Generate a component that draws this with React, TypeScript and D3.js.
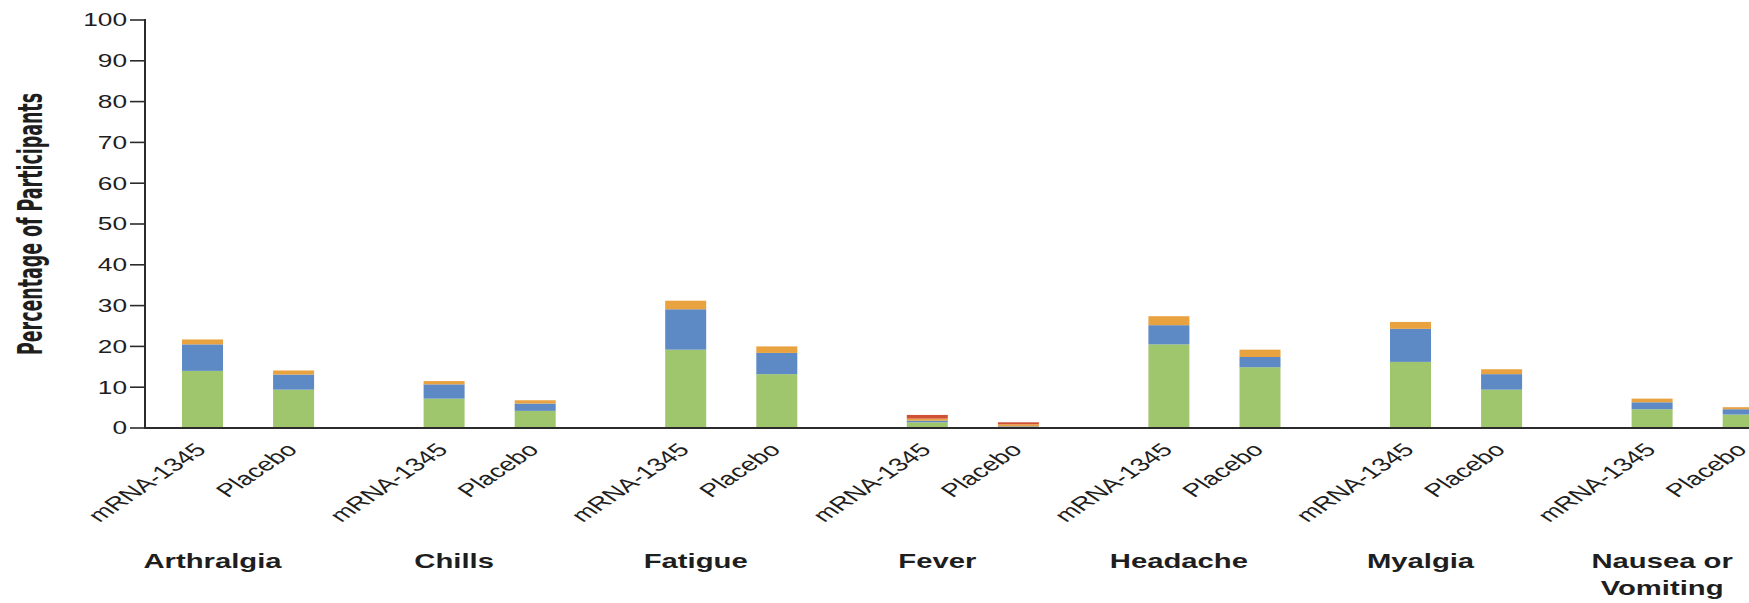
import React from "react";
import * as d3 from "d3";

// Solicited systemic adverse reactions by grade, % of participants
const symptoms = ["Arthralgia", "Chills", "Fatigue", "Fever", "Headache", "Myalgia", "Nausea or Vomiting"];
const arms = ["mRNA-1345", "Placebo"];
const gradeKeys = ["grade1", "grade2", "grade3", "grade4"];
const gradeColors = ["#9fc66d", "#5d89c4", "#e9a240", "#cf5033"];
const yTicks = [0, 10, 20, 30, 40, 50, 60, 70, 80, 90, 100];

const grade1Vaccine = [14.0, 7.2, 19.2, 1.4, 20.5, 16.2, 4.6];
const grade2Vaccine = [6.5, 3.5, 9.9, 0.4, 4.7, 8.1, 1.7];
const grade3Vaccine = [1.2, 0.8, 2.1, 0.5, 2.2, 1.7, 0.9];
const grade4Vaccine = [0, 0, 0, 0.9, 0, 0, 0];

const grade1Placebo = [9.4, 4.2, 13.2, 0.1, 14.9, 9.4, 3.3];
const grade2Placebo = [3.7, 1.8, 5.2, 0.3, 2.5, 3.8, 1.3];
const grade3Placebo = [1.0, 0.8, 1.6, 0.5, 1.8, 1.2, 0.5];
const grade4Placebo = [0, 0, 0, 0.5, 0, 0, 0];

type Row = { symptom: string; arm: string; grade1: number; grade2: number; grade3: number; grade4: number };

const rows: Row[] = symptoms.flatMap((s, i) => [
  { symptom: s, arm: arms[0], grade1: grade1Vaccine[i], grade2: grade2Vaccine[i], grade3: grade3Vaccine[i], grade4: grade4Vaccine[i] },
  { symptom: s, arm: arms[1], grade1: grade1Placebo[i], grade2: grade2Placebo[i], grade3: grade3Placebo[i], grade4: grade4Placebo[i] },
]);

const W = 1749;
const H = 603;
const axisX = 145;
const axisY = 428;
const topY = 20;
const stretch = 1.5; // horizontal text stretch
const groupStep = 241.6;
const groupStart = 182;
const textColor = "#1e1e1e";
const font = "'Liberation Sans', Arial, sans-serif";

export default function App() {
  const y = d3.scaleLinear().domain([0, 100]).range([axisY, topY]);
  const x0 = d3
    .scaleBand<string>()
    .domain(symptoms)
    .range([groupStart, groupStart + groupStep * symptoms.length])
    .padding(0);
  const x1 = d3.scaleBand<string>().domain(arms).range([0, 132.1]).paddingInner(0.55).paddingOuter(0);

  const series = d3.stack<Row>().keys(gradeKeys)(rows);

  const barX = (r: Row) => (x0(r.symptom) ?? 0) + (x1(r.arm) ?? 0);
  const bw = x1.bandwidth();

  return (
    <svg width={W} height={H} style={{ position: "absolute", left: 0, top: 0, background: "#fff" }}>
      {/* stacked bars */}
      {series.map((s, si) => (
        <g key={s.key} fill={gradeColors[si]}>
          {s.map((d, di) => {
            const h = y(d[0]) - y(d[1]);
            if (h <= 0) return null;
            return <rect key={di} x={barX(d.data)} y={y(d[1])} width={bw} height={h} />;
          })}
        </g>
      ))}

      {/* y axis */}
      <line x1={axisX} x2={axisX} y1={topY - 1} y2={axisY + 1} stroke="#2b2b2b" strokeWidth={2} />
      {yTicks.map((t) => (
        <g key={t}>
          <line x1={axisX - 15} x2={axisX} y1={y(t)} y2={y(t)} stroke="#2b2b2b" strokeWidth={1.6} />
          <text
            transform={`translate(${axisX - 18},${y(t) + 6.3}) scale(${stretch},1)`}
            textAnchor="end"
            fontFamily={font}
            fontSize={17.5}
            fill={textColor}
          >
            {t}
          </text>
        </g>
      ))}

      {/* x axis */}
      <line x1={axisX} x2={W} y1={axisY} y2={axisY} stroke="#2b2b2b" strokeWidth={2} />

      {/* arm labels */}
      {rows.map((r, i) => (
        <text
          key={i}
          transform={`translate(${barX(r) + bw / 2 + 5},${451}) scale(${stretch},1) rotate(-45)`}
          textAnchor="end"
          fontFamily={font}
          fontSize={18.5}
          fill={textColor}
        >
          {r.arm}
        </text>
      ))}

      {/* symptom labels */}
      {symptoms.map((s) => {
        const cx = (x0(s) ?? 0) + (x1(arms[0]) ?? 0) + bw / 2 + 10;
        const lines = s === "Nausea or Vomiting" ? ["Nausea or", "Vomiting"] : [s];
        return lines.map((ln, li) => (
          <text
            key={s + li}
            transform={`translate(${cx},${568 + li * 27}) scale(${stretch},1)`}
            textAnchor="middle"
            fontFamily={font}
            fontWeight="bold"
            fontSize={19.5}
            fill={textColor}
          >
            {ln}
          </text>
        ));
      })}

      {/* y axis title */}
      <text
        transform={`translate(42,${224}) scale(${stretch},1) rotate(-90)`}
        textAnchor="middle"
        fontFamily="'Liberation Sans Narrow', 'DejaVu Sans Condensed', Arial, sans-serif"
        fontWeight="bold"
        fontSize={23}
        textLength={262}
        lengthAdjust="spacingAndGlyphs"
        fill={textColor}
      >
        Percentage of Participants
      </text>
    </svg>
  );
}
